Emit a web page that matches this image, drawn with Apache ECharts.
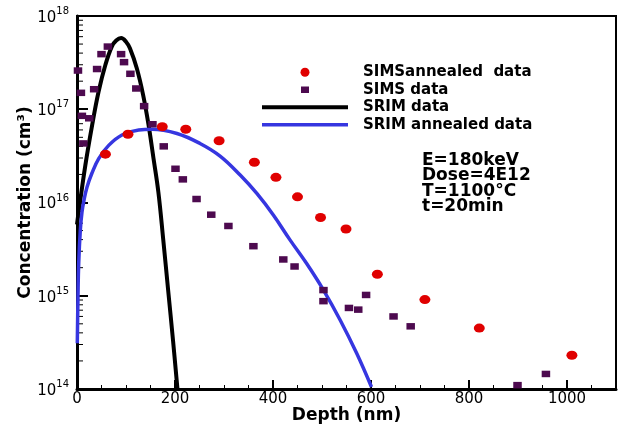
<!DOCTYPE html>
<html>
<head>
<meta charset="utf-8">
<script src="https://cdn.jsdelivr.net/npm/echarts@6/dist/echarts.min.js"></script>
<style>html,body{margin:0;padding:0;background:#fff;}#c{width:621px;height:428px;}</style>
</head>
<body>
<div id="c"></div>
<script>
// ---- data ----
const simsAnnealedDepth = [58, 104, 174, 222, 290, 362, 406, 450, 497, 549, 613, 710, 821, 1010];
const simsAnnealedConc  = [3.3e16, 5.4e16, 6.5e16, 6.1e16, 4.6e16, 2.7e16, 1.86e16, 1.15e16, 6.9e15, 5.2e15, 1.7e15, 9.1e14, 4.5e14, 2.3e14];

const simsDepth = [2, 8, 10, 13, 25, 35, 41, 50, 63, 90, 96, 109, 121, 137, 154, 177, 201, 216, 244, 274, 309, 360, 421, 444, 503, 503, 555, 574, 590, 646, 681, 899, 957];
const simsConc  = [2.6e17, 1.5e17, 8.5e16, 4.3e16, 8.0e16, 1.64e17, 2.7e17, 3.9e17, 4.7e17, 3.9e17, 3.2e17, 2.4e17, 1.67e17, 1.08e17, 6.9e16, 4.0e16, 2.3e16, 1.77e16, 1.09e16, 7.4e15, 5.6e15, 3.4e15, 2.45e15, 2.06e15, 1.15e15, 8.75e14, 7.4e14, 7.1e14, 1.02e15, 6.0e14, 4.7e14, 1.1e14, 1.45e14];

const srimDepth = [0, 3.5, 17, 31, 44, 58, 71, 80, 90, 100, 108, 122, 135, 146, 156, 166, 176, 186, 196, 205];
const srimConc  = [5.8e15, 8e15, 2.5e16, 6.8e16, 1.54e17, 3.0e17, 4.7e17, 5.45e17, 5.8e17, 5.3e17, 4.5e17, 2.75e17, 1.42e17, 6.8e16, 3.0e16, 1.3e16, 4.0e15, 1.15e15, 3.3e14, 1.0e14];

const srimAnnDepth = [0.6, 2, 3.5, 6.7, 10.2, 14.3, 20.4, 30.6, 44.3, 64.7, 91.8, 126, 153, 204, 251, 292, 333, 367, 401, 435, 469, 503, 537, 571, 601];
const srimAnnConc  = [3.1e14, 9.7e14, 2.24e15, 5.0e15, 7.9e15, 1.06e16, 1.46e16, 2.07e16, 2.96e16, 4.1e16, 5.3e16, 6.0e16, 6.1e16, 5.5e16, 4.3e16, 3.15e16, 1.97e16, 1.25e16, 7.3e15, 3.95e15, 2.2e15, 1.15e15, 5.5e14, 2.4e14, 1.05e14];

const seriesNames = ['SIMSannealed  data', 'SIMS data', 'SRIM data', 'SRIM annealed data'];
const annotationLines = ['E=180keV', 'Dose=4E12', 'T=1100°C', 't=20min'];

// log-axis minor tick positions (mantissas 2..9 for each decade)
const minorMantissas = [2, 3, 4, 5, 6, 7, 8, 9];
const minorDecades = [14, 15, 16, 17];
const yMinorTicks = [];
minorDecades.forEach(d => minorMantissas.forEach(m => yMinorTicks.push(m * Math.pow(10, d))));

const zip = (xs, ys) => xs.map((x, i) => [x, ys[i]]);
const FONT = 'DejaVu Sans';

const chart = echarts.init(document.getElementById('c'), null, {renderer: 'canvas'});
chart.setOption({
  animation: false,
  backgroundColor: '#fff',
  textStyle: {fontFamily: FONT},
  grid: {left: 77, right: 5, top: 16, bottom: 39, show: true, borderColor: '#000', borderWidth: 2,
         backgroundColor: 'transparent', containLabel: false, outerBoundsMode: 'none'},
  legend: {
    orient: 'vertical', left: 257, top: 58.5, padding: 5,
    itemWidth: 86, itemHeight: 9, itemGap: 0,
    textStyle: {fontFamily: FONT, fontWeight: 'bold', fontSize: 15, color: '#000', lineHeight: 17.5, padding: [0, 0, 0, 10]},
    data: [
      {name: seriesNames[0], icon: 'circle'},
      {name: seriesNames[1], icon: 'path://M0,0M9,9M0.5,1.25h8v6.5h-8z'},
      {name: seriesNames[2], icon: 'path://M0,0M86,9M0,2.5h86v4h-86z'},
      {name: seriesNames[3], icon: 'path://M0,0M86,9M0,2.75h86v3.5h-86z'}
    ]
  },
  xAxis: [{
    type: 'value', min: 0, max: 1100, interval: 200,
    name: 'Depth (nm)', nameLocation: 'middle', nameGap: 18, nameMoveOverlap: false,
    nameTextStyle: {fontFamily: FONT, fontWeight: 'bold', fontSize: 17, color: '#000'},
    axisLine: {show: true, onZero: false, lineStyle: {color: '#000', width: 3}},
    axisTick: {show: true, inside: true, length: 9, lineStyle: {color: '#000', width: 2}},
    axisLabel: {fontFamily: FONT, fontSize: 15, color: '#000', margin: 3, showMaxLabel: false, formatter: v => String(v)},
    splitLine: {show: false}
  }, {
    type: 'value', min: 0, max: 1100, interval: 50, position: 'bottom',
    axisLine: {show: false},
    axisTick: {show: true, inside: true, length: 4, lineStyle: {color: '#000', width: 1}},
    axisLabel: {show: false},
    splitLine: {show: false}
  }],
  yAxis: {
    type: 'log', logBase: 10, min: 1e14, max: 1e18,
    name: 'Concentration (cm³)', nameLocation: 'middle', nameGap: 43, nameRotate: 90, nameMoveOverlap: false,
    nameTextStyle: {fontFamily: FONT, fontWeight: 'bold', fontSize: 17, color: '#000'},
    axisLine: {show: true, lineStyle: {color: '#000', width: 3}},
    axisTick: {show: true, inside: true, length: 11, lineStyle: {color: '#000', width: 2}},
    axisLabel: {
      margin: 8, color: '#000',
      formatter: v => '{b|10}{s|' + Math.round(Math.log10(v)) + '}',
      rich: {
        b: {fontFamily: FONT, fontSize: 15, color: '#000', lineHeight: 19, verticalAlign: 'bottom'},
        s: {fontFamily: FONT, fontSize: 10, color: '#000', lineHeight: 10, verticalAlign: 'top'}
      }
    },
    splitLine: {show: false}
  },
  graphic: [{
    type: 'text', left: 422, top: 152,
    style: {text: annotationLines.join('\n'), font: 'bold 17px "DejaVu Sans"', fill: '#000', lineHeight: 15.3}
  }],
  series: [
    {
      name: seriesNames[2], type: 'line', data: zip(srimDepth, srimConc),
      showSymbol: false, symbol: 'none', smooth: 0.4, z: 2,
      lineStyle: {color: '#000', width: 4}, itemStyle: {color: '#000'}
    },
    {
      name: seriesNames[3], type: 'line', data: zip(srimAnnDepth, srimAnnConc),
      showSymbol: false, symbol: 'none', smooth: 0.4, z: 2,
      lineStyle: {color: '#3636e0', width: 3.5}, itemStyle: {color: '#3636e0'}
    },
    {
      name: seriesNames[0], type: 'scatter', data: zip(simsAnnealedDepth, simsAnnealedConc),
      symbol: 'path://M0,1a1,1 0 1,0 2,0a1,1 0 1,0 -2,0z', symbolSize: [11, 9], z: 3,
      itemStyle: {color: '#e00000', opacity: 1}
    },
    {
      name: seriesNames[1], type: 'scatter', data: zip(simsDepth, simsConc),
      symbol: 'rect', symbolSize: [8.5, 6.5], z: 3,
      itemStyle: {color: '#4d0a4f', opacity: 1}
    },
    {
      name: 'yMinor', type: 'custom', silent: true, clip: false, z: 1,
      data: yMinorTicks.map(v => [0, v]),
      renderItem: (params, api) => {
        const p = api.coord([0, api.value(1)]);
        return {type: 'line', shape: {x1: p[0], y1: p[1], x2: p[0] + 6, y2: p[1]}, style: {stroke: '#000', lineWidth: 1}};
      }
    }
  ]
});
</script>
</body>
</html>
